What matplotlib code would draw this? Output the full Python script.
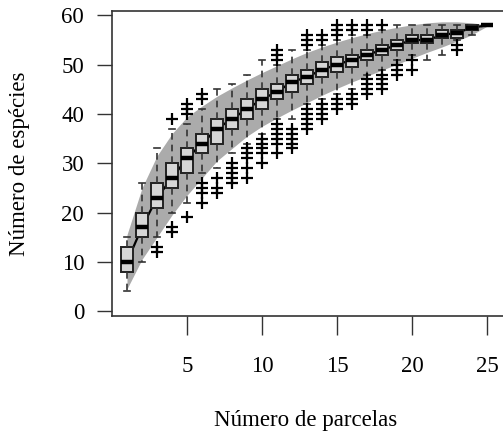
import matplotlib.pyplot as plt
import numpy as np

plt.rcParams['font.family'] = ['Liberation Serif', 'DejaVu Serif']

parcelas = np.arange(1, 26)

# box statistics
q1 = [8, 15, 21, 25, 28, 32, 34, 37, 39, 41, 43, 44.5, 46, 47.5, 48.5,
      49.5, 51, 52, 53, 54.5, 54.5, 55.5, 55.5, 57, 58]
med = [10, 17, 23, 27, 31, 34, 37, 39, 41, 43, 44.5, 46.5, 47.5, 49, 50,
       51, 52, 53, 54, 55, 55, 56, 56.5, 57.5, 58]
q3 = [13, 20, 26, 30, 33, 36, 39, 41, 43, 45, 46, 48, 49, 50.5, 51.5,
      52, 53, 54, 55, 56, 56, 57, 57, 58, 58]
wlo = [4, 10, 15, 20, 22, 28, 29, 32, 34, 36, 39, 39, 42, 43, 44,
       45, 48, 49, 51, 52, 51, 52, 55, 56, 58]
whi = [15, 26, 33, 37, 38, 41, 45, 46, 48, 51, 50, 53, 53, 54, 55,
       56, 56, 57, 58, 58, 58, 58, 58, 58, 58]
fliers = [
    [], [], [12, 13], [16, 17, 39], [19, 40, 41, 42],
    [22, 24, 25, 26, 43, 44], [24, 25, 27], [26, 27, 28, 29, 30],
    [27, 29, 31, 32, 33], [30, 32, 33, 34, 35],
    [32, 34, 35, 36, 37, 38, 51, 52, 53], [33, 34, 35, 36, 37],
    [37, 38, 39, 40, 41, 54, 55, 56], [39, 40, 41, 42, 55, 56],
    [41, 42, 43, 56, 57, 58], [42, 43, 44, 57, 58],
    [44, 45, 46, 47, 57, 58], [45, 46, 47, 48, 58], [48, 49, 50],
    [49, 51], [], [], [53, 54], [], [],
]

# envelope (gray band)
band_lo = [4.5, 10.5, 15, 19.5, 23.5, 27, 30.5, 33, 35.5, 37.5, 39.2, 40.8,
           42.3, 43.8, 45.2, 46.5, 47.7, 48.9, 50.1, 51.3, 52.5, 53.6, 54.8,
           56.1, 57.8]
band_hi = [15.5, 25, 31.5, 36, 39.4, 41.6, 43.6, 45.3, 46.9, 48.4, 49.8,
           51.2, 52.5, 53.6, 54.6, 55.5, 56.3, 57.0, 57.6, 58.1, 58.5, 58.7,
           58.7, 58.5, 58.1]

fig = plt.figure(figsize=(5.03, 4.36), dpi=100)
ax = fig.add_axes([112 / 503, 0.2752, 395 / 503, 0.7007])

ax.fill_between(parcelas, band_lo, band_hi, color='#ababab', lw=0, zorder=1)
ax.plot(parcelas, med, color='black', lw=1.6, zorder=2)

stats = []
for i in range(len(parcelas)):
    stats.append(dict(q1=q1[i], med=med[i], q3=q3[i], whislo=wlo[i],
                      whishi=whi[i], fliers=fliers[i]))

ax.bxp(stats, positions=parcelas, widths=0.8, capwidths=0.4,
       patch_artist=True, manage_ticks=False, zorder=3,
       boxprops=dict(facecolor='#d6d6d6', edgecolor='#222222', lw=1.4),
       medianprops=dict(color='black', lw=3.2, solid_capstyle='butt'),
       whiskerprops=dict(color='#333333', lw=1.2, linestyle=(0, (4, 3))),
       capprops=dict(color='#333333', lw=1.2),
       flierprops=dict(marker='+', markersize=9, markeredgecolor='black',
                       markeredgewidth=1.6))

ax.set_xlim(0, 395 / 15)
ax.set_ylim(-1, 61)
ax.set_xticks([5, 10, 15, 20, 25])
ax.set_yticks([0, 10, 20, 30, 40, 50, 60])
ax.tick_params(width=1, labelsize=16.5, color='#333333')
ax.tick_params(axis='y', length=11, pad=9)
ax.tick_params(axis='x', length=14, pad=15)
for s in ax.spines.values():
    s.set_linewidth(1.2)
    s.set_color('#333333')

ax.set_ylabel('Número de espécies', fontsize=16.5)
ax.yaxis.set_label_coords(-82 / 395, 0.5)
fig.text(306 / 503, 1 - 420 / 436, 'Número de parcelas', fontsize=16.5,
         ha='center', va='center')

fig.savefig('out.png', dpi=100)
